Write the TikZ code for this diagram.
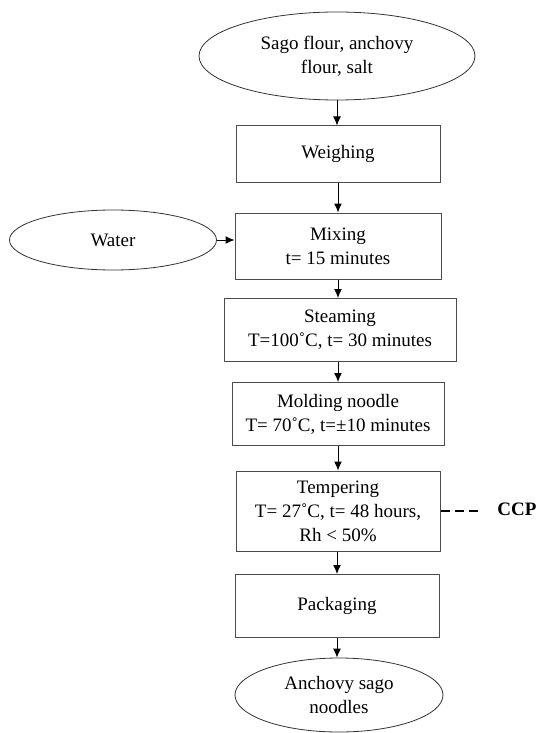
\documentclass[tikz,border=0pt]{standalone}
\usepackage{fontspec}
\setmainfont{Liberation Serif}
\usetikzlibrary{shapes,arrows.meta}
\tikzset{
every picture/.style={
line width=1pt
}}

\begin{document}
\begin{tikzpicture}[x=1pt, y=-1pt,
font=\fontsize{19}{24}\selectfont,
block/.style = {rectangle, draw=black!70, align=center, minimum width=204pt, inner sep=2pt},
stuff/.style = {ellipse, draw=black!80, line width=0.8pt, align=center, inner sep=0pt},
flow/.style = {black, -{Latex[length=9pt, width=8pt]}}]

\useasboundingbox (0,0) rectangle (537,733);

\node[stuff, minimum width=276pt, minimum height=88pt] (src) at (337,56) {Sago flour, anchovy\\flour, salt};
\node[block, minimum height=56pt] (weigh) at (338,154) {Weighing};
\node[block, minimum width=206pt, minimum height=66pt] (mix) at (338,246) {Mixing\\t= 15 minutes};
\node[stuff, minimum width=207pt, minimum height=60pt] (water) at (113,240) {Water};
\node[block, minimum width=232pt, minimum height=63pt] (steam) at (340,330) {Steaming\\T=100˚C, t= 30 minutes};
\node[block, minimum width=212pt, minimum height=63pt] (mold) at (338,414) {Molding noodle\\T= 70˚C, t=±10 minutes};
\node[block, minimum height=80pt] (temper) at (338,511) {Tempering\\T= 27˚C, t= 48 hours,\\Rh < 50\%};
\node[block, minimum height=63pt] (pack) at (337,606) {Packaging};
\node[stuff, minimum width=208pt, minimum height=74pt] (out) at (339,695) {Anchovy sago\\noodles};

\coordinate (ccpend) at (481,511);
\node[font=\fontsize{19}{24}\selectfont\bfseries] (ccp) at (517,509) {CCP};

\draw [flow] (src.south) -- (src.south |- weigh.north);
\draw [flow] (weigh.south) -- (weigh.south |- mix.north);
\draw [flow] (water.east) -- (water.east -| mix.west);
\draw [flow] (mix.south) -- (mix.south |- steam.north);
\draw [flow] (steam.south -| mold) -- (mold.north);
\draw [flow] (mold.south) -- (mold.south |- temper.north);
\draw [flow] (temper.south -| pack) -- (pack.north);
\draw [flow] (pack.south) -- (pack.south |- out.north);
\draw [black, line width=2.2pt, dash pattern=on 9pt off 5pt] (temper.east) -- (ccpend);
\end{tikzpicture}
\end{document}
